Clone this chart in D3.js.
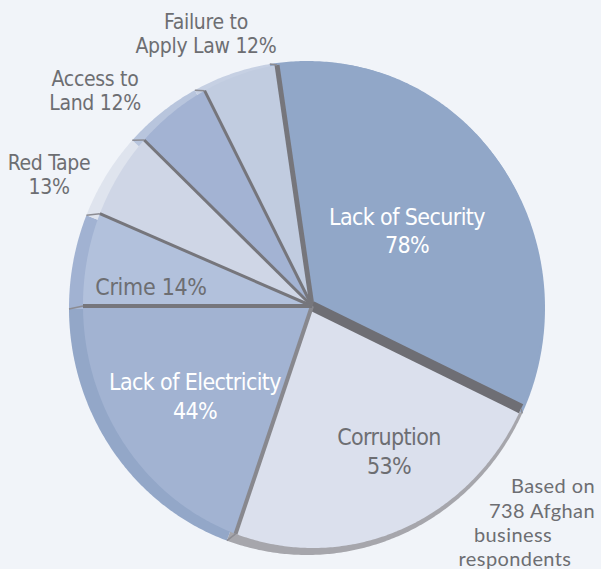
<!DOCTYPE html>
<meta charset="utf-8">
<head>
<meta charset="utf-8">
<title>Obstacles to business</title>
<script src="https://d3js.org/d3.v7.min.js"></script>
<style>
    html, body { margin: 0; background: #f1f4f9; }
    svg { display: block; }
    .lbl {
        font-family: "DejaVu Sans Condensed", "DejaVu Sans", sans-serif;
        text-anchor: middle;
    }
    .note { font-family: Lato, sans-serif; font-size: 20px; letter-spacing: 0.4px; fill: #6d6e72; }
</style>
</head>
<body>
<svg width="601" height="569"></svg>
<script>

// data (share of respondents naming each obstacle)
var categories = ["Lack of Security", "Corruption", "Lack of Electricity", "Crime",
                  "Red Tape", "Access to Land", "Failure to Apply Law"];
var values = [78, 53, 44, 14, 13, 12, 12];
// how each category name is broken into lines for its label
var nameLines = [["Lack of Security"], ["Corruption"], ["Lack of Electricity"], ["Crime"],
                 ["Red Tape"], ["Access to", "Land"], ["Failure to", "Apply Law"]];
var noteLines = ["Based on", "738 Afghan", "business", "respondents"];

var svg = d3.select("svg"),
    width = +svg.attr("width"),
    height = +svg.attr("height");

svg.append("rect").attr("width", width).attr("height", height).attr("fill", "#f1f4f9");

var faceColor = ["#91a7c8", "#dbe0ed", "#a2b3d2", "#b2c1dc", "#cfd6e6", "#a3b3d3", "#c1cce0"],
    rimColor  = ["#91a7c8", "#a6a6ac", "#93a7c8", "#a1b2d2", "#dfe4ee", "#b8c5dd", "#c6d0e3"];

// tilted pie: top face and the outer silhouette (side wall) are two ellipses
var apex = [312, 306],
    face = {cx: 313, cy: 305, rx: 230, ry: 243},
    outer = {cx: 307, cy: 308, rx: 238, ry: 247};

var start = -9 * Math.PI / 180;
var pie = d3.pie().sort(null).startAngle(start).endAngle(start + 2 * Math.PI);
var arcs = pie(values);

function ellPt(e, a) {
    return [e.cx + e.rx * Math.sin(a), e.cy - e.ry * Math.cos(a)];
}

var line = d3.line();

function wedge(e, d) {
    var pts = [apex];
    var n = Math.max(2, Math.ceil((d.endAngle - d.startAngle) / 0.01));
    for (var i = 0; i <= n; i++) {
        pts.push(ellPt(e, d.startAngle + (d.endAngle - d.startAngle) * i / n));
    }
    return line(pts) + "Z";
}

var chart = svg.append("g");

// side wall
chart.selectAll(".rim")
    .data(arcs)
    .enter().append("path")
    .attr("class", "rim")
    .attr("d", d => wedge(outer, d))
    .attr("fill", (d, i) => rimColor[i]);

// top faces
chart.selectAll(".face")
    .data(arcs)
    .enter().append("path")
    .attr("class", "face")
    .attr("d", d => wedge(face, d))
    .attr("fill", (d, i) => faceColor[i]);

// separators at the start of each slice
var sepWidth = [5, 10, 4, 4, 3, 3, 3],
    sepColor = ["#76767c", "#6e6e74", "#88888e", "#76767c", "#76767c", "#76767c", "#76767c"];

chart.selectAll(".sep")
    .data(arcs)
    .enter().append("path")
    .attr("class", "sep")
    .attr("d", d => line([apex, ellPt(face, d.startAngle)]))
    .attr("stroke", (d, i) => sepColor[i])
    .attr("stroke-width", (d, i) => sepWidth[i])
    .attr("stroke-linecap", "butt")
    .attr("fill", "none");

chart.selectAll(".notch")
    .data(arcs)
    .enter().append("path")
    .attr("class", "notch")
    .attr("d", d => line([ellPt(face, d.startAngle), ellPt(outer, d.startAngle)]))
    .attr("stroke", "#8c8c93")
    .attr("stroke-width", 1.5)
    .attr("fill", "none");

// labels: centre x, first baseline, line step, font size, colour, percent on its own line
var labelPos = [
    {x: 407, y: 225, dy: 28, size: 23, ls: -0.6, fill: "#ffffff", own: true},
    {x: 389, y: 445, dy: 29, size: 23, ls: -0.6, fill: "#6d6e72", own: true},
    {x: 195, y: 390, dy: 29, size: 23, ls: -0.6, fill: "#ffffff", own: true},
    {x: 151, y: 295, dy: 0,  size: 23, ls: -0.3, fill: "#6d6e72", own: false},
    {x: 49,  y: 170, dy: 24, size: 21, ls: -0.3, fill: "#6d6e72", own: true},
    {x: 95,  y: 86,  dy: 24, size: 21, ls: -0.3, fill: "#6d6e72", own: false},
    {x: 206, y: 29,  dy: 24, size: 21, ls: -0.3, fill: "#6d6e72", own: false}
];

arcs.forEach(function(d, i) {
    var p = labelPos[i];
    var lines = nameLines[i].slice();
    var pct = d.data + "%";
    if (p.own) lines.push(pct);
    else lines[lines.length - 1] += " " + pct;
    var t = svg.append("text")
        .attr("class", "lbl")
        .attr("font-size", p.size)
        .attr("letter-spacing", p.ls)
        .attr("fill", p.fill);
    lines.forEach(function(s, k) {
        t.append("tspan").attr("x", p.x).attr("y", p.y + k * p.dy).text(s);
    });
});

// note in the lower right corner
var notePos = [
    {x: 595, y: 493, anchor: "end"},
    {x: 595, y: 518, anchor: "end"},
    {x: 513, y: 542, anchor: "middle"},
    {x: 515, y: 566, anchor: "middle"}
];
svg.selectAll(".note")
    .data(noteLines)
    .enter().append("text")
    .attr("class", "note")
    .attr("x", (d, i) => notePos[i].x)
    .attr("y", (d, i) => notePos[i].y)
    .attr("text-anchor", (d, i) => notePos[i].anchor)
    .text(d => d);

</script>
</body>
</html>
